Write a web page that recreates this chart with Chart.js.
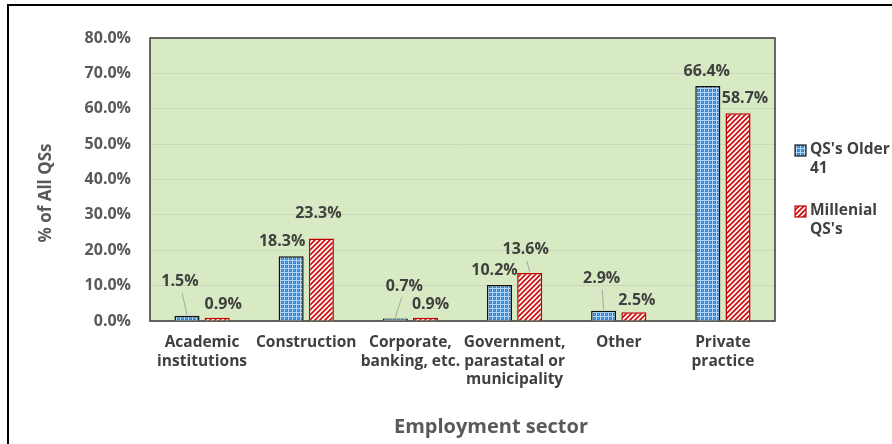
<!DOCTYPE html>
<html>
<head>
<meta charset="utf-8">
<script src="https://cdn.jsdelivr.net/npm/chart.js@4"></script>
<style>
  html, body { margin: 0; padding: 0; background: #fff; }
  #wrap { position: relative; width: 892px; height: 444px; overflow: hidden; }
  #frame { position: absolute; left: 7px; top: 4px; right: -10px; bottom: -10px;
           border-top: 2px solid #000; border-left: 2px solid #000; pointer-events: none; }
  canvas { position: absolute; left: 0; top: 0; }
</style>
</head>
<body>
<div id="wrap">
  <canvas id="chart" width="892" height="444"></canvas>
  <div id="frame"></div>
</div>
<script>
// Data
const categories = [
  ['Academic', 'institutions'],
  ['Construction'],
  ['Corporate,', 'banking, etc.'],
  ['Government,', 'parastatal or', 'municipality'],
  ['Other'],
  ['Private', 'practice']
];
const olderValues = [1.5, 18.3, 0.7, 10.2, 2.9, 66.4];
const millenialValues = [0.9, 23.3, 0.9, 13.6, 2.5, 58.7];
const seriesNames = [["QS's Older", '41'], ['Millenial', "QS's"]];

// label placement tweaks (dx, lift above bar, leader line)
const labelOffsets = [
  [[-7, 34, true], [-9, 15], [9, 32, true], [-5, 14], [-2, 32, true], [-1, 15]],
  [[6, 13], [-3, 25], [5, 13], [-4, 23, true], [3, 12], [7, 15]]
];

const FONT = "'Open Sans', 'DejaVu Sans', sans-serif";
const TEXT = '#404040';

function dotPattern() {
  const c = document.createElement('canvas');
  c.width = 4; c.height = 4;
  const x = c.getContext('2d');
  x.fillStyle = '#3584d6';
  x.fillRect(0, 0, 4, 4);
  x.fillStyle = '#b4d7f6';
  x.fillRect(0, 0, 4, 1);
  x.fillRect(0, 0, 1, 4);
  x.fillStyle = '#74b0ea';
  x.fillRect(2, 2, 1, 1);
  return x.createPattern(c, 'repeat');
}

function stripePattern() {
  const c = document.createElement('canvas');
  c.width = 5; c.height = 5;
  const x = c.getContext('2d');
  x.fillStyle = '#ffffff';
  x.fillRect(0, 0, 5, 5);
  x.strokeStyle = '#d01010';
  x.lineWidth = 1.8;
  x.beginPath();
  x.moveTo(-1, 6); x.lineTo(6, -1);
  x.moveTo(-3.5, 3.5); x.lineTo(3.5, -3.5);
  x.moveTo(1.5, 8.5); x.lineTo(8.5, 1.5);
  x.stroke();
  return x.createPattern(c, 'repeat');
}

const blueFill = dotPattern();
const redFill = stripePattern();

const plotDecor = {
  id: 'plotDecor',
  beforeDraw(chart) {
    const { ctx, chartArea: a } = chart;
    ctx.save();
    ctx.fillStyle = '#d8eac4';
    ctx.fillRect(a.left, a.top, a.right - a.left, a.bottom - a.top);
    ctx.restore();
  },
  beforeDatasetsDraw(chart) {
    const { ctx, chartArea: a } = chart;
    ctx.save();
    ctx.strokeStyle = '#3a3a3a';
    ctx.lineWidth = 1.5;
    ctx.strokeRect(a.left, a.top, a.right - a.left, a.bottom - a.top);
    ctx.restore();
  },
  afterDatasetsDraw(chart) {
    const { ctx } = chart;
    ctx.save();
    ctx.font = `bold 16px ${FONT}`;
    ctx.textAlign = 'center';
    ctx.textBaseline = 'middle';
    chart.data.datasets.forEach((ds, di) => {
      chart.getDatasetMeta(di).data.forEach((bar, i) => {
        const [dx, lift, leader] = labelOffsets[di][i];
        const lx = bar.x + dx;
        const ly = bar.y - lift;
        if (leader) {
          ctx.strokeStyle = '#a6a6a6';
          ctx.lineWidth = 1;
          ctx.beginPath();
          ctx.moveTo(lx + (bar.x - lx) * 0.3, ly + 11);
          ctx.lineTo(bar.x, bar.y - 1);
          ctx.stroke();
        }
        ctx.fillStyle = TEXT;
        ctx.fillText(ds.data[i].toFixed(1) + '%', lx, ly);
      });
    });
    ctx.restore();
  },
  afterDraw(chart) {
    const { ctx } = chart;
    ctx.save();
    ctx.fillStyle = '#595959';
    ctx.textAlign = 'center';
    ctx.textBaseline = 'middle';
    // axis titles
    ctx.font = `bold 20px ${FONT}`;
    ctx.fillText('Employment sector', 491, 427);
    ctx.save();
    ctx.translate(46, 193);
    ctx.rotate(-Math.PI / 2);
    ctx.font = `bold 17px ${FONT}`;
    ctx.fillText('% of All QSs', 0, 0);
    ctx.restore();
    // legend
    const fills = [blueFill, redFill];
    const borders = ['#1a1a1a', '#c00000'];
    const tops = [150, 211];
    ctx.font = `bold 15.5px ${FONT}`;
    ctx.textAlign = 'left';
    seriesNames.forEach((lines, k) => {
      ctx.fillStyle = fills[k];
      ctx.fillRect(795, tops[k] - 5, 11, 11);
      ctx.strokeStyle = borders[k];
      ctx.lineWidth = 1.2;
      ctx.strokeRect(795, tops[k] - 5, 11, 11);
      ctx.fillStyle = TEXT;
      lines.forEach((t, j) => ctx.fillText(t, 810, tops[k] + j * 19));
    });
    ctx.restore();
  }
};

new Chart(document.getElementById('chart').getContext('2d'), {
  type: 'bar',
  data: {
    labels: categories,
    datasets: [
      {
        label: seriesNames[0].join(' '),
        data: olderValues,
        backgroundColor: blueFill,
        borderColor: '#111111',
        borderWidth: 1.5,
        barPercentage: 0.83,
        categoryPercentage: 0.58
      },
      {
        label: seriesNames[1].join(' '),
        data: millenialValues,
        backgroundColor: redFill,
        borderColor: '#c00000',
        borderWidth: 1.5,
        barPercentage: 0.83,
        categoryPercentage: 0.58
      }
    ]
  },
  options: {
    responsive: false,
    animation: false,
    layout: { padding: { top: 38, right: 117, left: 0, bottom: 0 } },
    plugins: {
      legend: { display: false },
      tooltip: { enabled: false }
    },
    scales: {
      x: {
        afterFit: s => { s.height = 123; },
        grid: { display: false },
        border: { display: false },
        ticks: {
          color: TEXT,
          font: { family: FONT, size: 15.5, weight: 'bold', lineHeight: 1.17 },
          padding: 5,
          maxRotation: 0,
          autoSkip: false
        }
      },
      y: {
        min: 0,
        max: 80,
        afterFit: s => { s.width = 150; },
        border: { display: false },
        grid: { color: '#c9d8bc', lineWidth: 1, drawTicks: false },
        ticks: {
          stepSize: 10,
          color: '#595959',
          padding: 19,
          font: { family: FONT, size: 16, weight: 'bold' },
          callback: v => v.toFixed(1) + '%'
        }
      }
    }
  },
  plugins: [plotDecor]
});
</script>
</body>
</html>
